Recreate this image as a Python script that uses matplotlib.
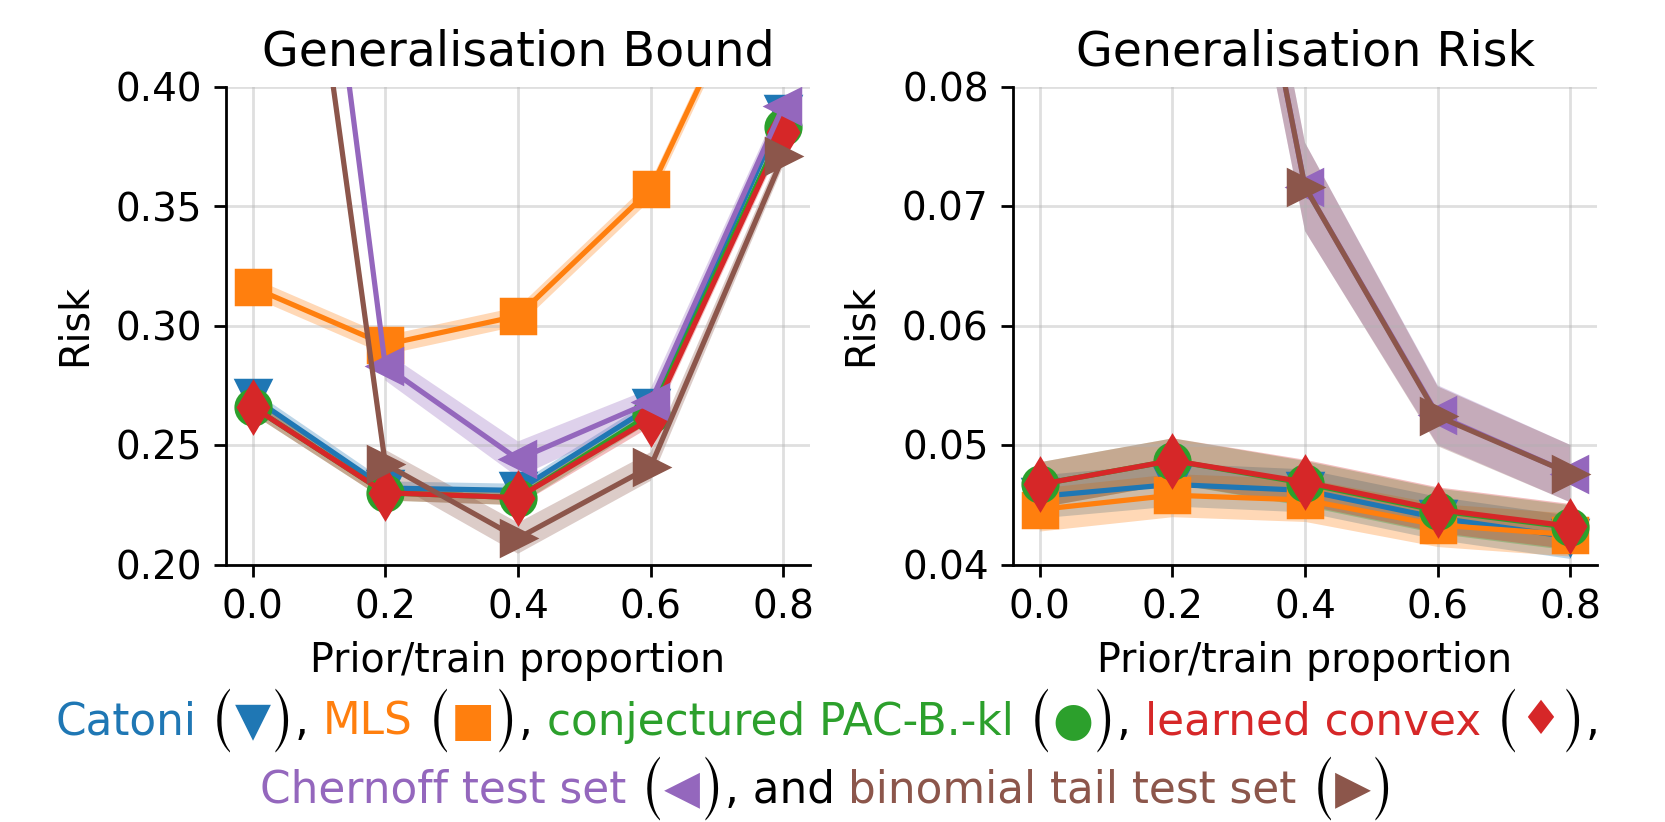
import matplotlib
matplotlib.use("Agg")
import matplotlib.pyplot as plt
import numpy as np
from matplotlib.offsetbox import TextArea, HPacker, AnchoredOffsetbox

# ---------------- data ----------------
proportions = [0.0, 0.2, 0.4, 0.6, 0.8]
xticks = [0.0, 0.2, 0.4, 0.6, 0.8]
bound_yticks = [0.20, 0.25, 0.30, 0.35, 0.40]
risk_yticks = [0.04, 0.05, 0.06, 0.07, 0.08]

series_names = ["Catoni", "MLS", "conjectured PAC-B.-kl", "learned convex",
                "Chernoff test set", "binomial tail test set"]
series_colors = ["#1f77b4", "#ff7f0e", "#2ca02c", "#d62728", "#9467bd", "#8c564b"]
series_markers = ["v", "s", "o", "d", "<", ">"]
legend_symbols = ["\u25BC", "\u25A0", "\u25CF", "\u2666", "\u25C0", "\u25B6"]

# Generalisation bound (mean, half-width of shaded band)
bound_catoni = [0.270, 0.232, 0.231, 0.266, 0.389]
bound_mls = [0.316, 0.292, 0.304, 0.357, 0.475]
bound_conj = [0.266, 0.230, 0.228, 0.263, 0.383]
bound_learned = [0.266, 0.230, 0.228, 0.261, 0.381]
bound_chernoff = [0.715, 0.283, 0.244, 0.268, 0.392]
bound_binomial = [0.645, 0.242, 0.211, 0.241, 0.371]

bound_catoni_sd = [0.003, 0.003, 0.003, 0.003, 0.003]
bound_mls_sd = [0.004, 0.004, 0.004, 0.004, 0.004]
bound_conj_sd = [0.003, 0.003, 0.003, 0.003, 0.003]
bound_learned_sd = [0.003, 0.003, 0.003, 0.003, 0.003]
bound_chernoff_sd = [0.006, 0.006, 0.0075, 0.0056, 0.004]
bound_binomial_sd = [0.006, 0.006, 0.0065, 0.006, 0.004]

# Generalisation risk
risk_catoni = [0.0457, 0.0467, 0.0462, 0.0439, 0.0423]
risk_mls = [0.0446, 0.0458, 0.0454, 0.0433, 0.0425]
risk_conj = [0.0467, 0.0487, 0.0468, 0.0445, 0.0431]
risk_learned = [0.0467, 0.0487, 0.0469, 0.0446, 0.0432]
risk_chernoff = [0.350, 0.128, 0.0716, 0.0525, 0.0476]
risk_binomial = [0.350, 0.128, 0.0716, 0.0524, 0.0476]

risk_catoni_sd = [0.0018, 0.0018, 0.0018, 0.0018, 0.0018]
risk_mls_sd = [0.0018, 0.0018, 0.0018, 0.0018, 0.0018]
risk_conj_sd = [0.0019, 0.0019, 0.0019, 0.0019, 0.0019]
risk_learned_sd = [0.0019, 0.0019, 0.0019, 0.0019, 0.0019]
risk_chernoff_sd = [0.005, 0.004, 0.0037, 0.0025, 0.0024]
risk_binomial_sd = [0.005, 0.004, 0.0037, 0.0025, 0.0024]

bound_means = [bound_catoni, bound_mls, bound_conj, bound_learned, bound_chernoff, bound_binomial]
bound_sds = [bound_catoni_sd, bound_mls_sd, bound_conj_sd, bound_learned_sd, bound_chernoff_sd, bound_binomial_sd]
risk_means = [risk_catoni, risk_mls, risk_conj, risk_learned, risk_chernoff, risk_binomial]
risk_sds = [risk_catoni_sd, risk_mls_sd, risk_conj_sd, risk_learned_sd, risk_chernoff_sd, risk_binomial_sd]

# ---------------- figure ----------------
DPI = 250
plt.rcParams["font.family"] = ["DejaVu Sans"]
plt.rcParams["font.size"] = 11.4
fig = plt.figure(figsize=(1665 / DPI, 822 / DPI), dpi=DPI)

ax_w = 584 / 1665
ax_h = 478 / 822
ax_b = 1 - 564.5 / 822
ax1 = fig.add_axes([226 / 1665, ax_b, ax_w, ax_h])
ax2 = fig.add_axes([1013 / 1665, ax_b, ax_w, ax_h])


def draw(ax, means, sds, title, ylim, yticks):
    x = np.array(proportions)
    for m, s, c, mk in zip(means, sds, series_colors, series_markers):
        m = np.array(m)
        s = np.array(s)
        ax.fill_between(x, m - s, m + s, color=c, alpha=0.3, linewidth=0)
        ax.plot(x, m, color=c, marker=mk, markersize=10, linewidth=1.5)
    ax.set_ylim(*ylim)
    ax.set_yticks(yticks)
    ax.set_yticklabels([f"{v:.2f}" for v in yticks])
    ax.set_xticks(xticks)
    ax.set_xticklabels([f"{v:.1f}" for v in xticks])
    ax.set_xlim(-0.04, 0.84)
    ax.tick_params(labelsize=11.2)
    ax.grid(True, alpha=0.4)
    ax.spines["top"].set_visible(False)
    ax.spines["right"].set_visible(False)
    ax.set_title(title, fontsize=13.7)
    ax.set_xlabel("Prior/train proportion")
    ax.set_ylabel("Risk", labelpad=6)


draw(ax1, bound_means, bound_sds, "Generalisation Bound", (0.20, 0.40), bound_yticks)
draw(ax2, risk_means, risk_sds, "Generalisation Risk", (0.04, 0.08), risk_yticks)

# ---------------- caption-style legend ----------------
FS = 12.6
PFS = 15
SFS = 13.5


def piece(txt, color="black", size=FS, family="DejaVu Sans"):
    return TextArea(txt, textprops=dict(color=color, fontsize=size,
                                        family=[family, "DejaVu Sans"]))


def paren(ch):
    return piece(ch, size=PFS, family="STIXSizeOneSym")


def entry(i, trailing):
    parts = [piece(series_names[i], series_colors[i]),
             piece(" "),
             paren("("),
             piece(legend_symbols[i], series_colors[i], size=SFS),
             paren(")")]
    if trailing:
        parts.append(piece(trailing))
    return parts


line1 = []
for i in range(4):
    line1 += entry(i, ", " if i < 3 else ",")
line2 = entry(4, ", and ") + entry(5, "")

for items, yc in [(line1, 1 - 722 / 822), (line2, 1 - 790 / 822)]:
    box = HPacker(children=items, align="center", pad=0, sep=0)
    anch = AnchoredOffsetbox(loc="center", child=box, pad=0, borderpad=0, frameon=False,
                             bbox_to_anchor=(0.497, yc), bbox_transform=fig.transFigure)
    fig.add_artist(anch)

fig.savefig("out.png", dpi=DPI)
